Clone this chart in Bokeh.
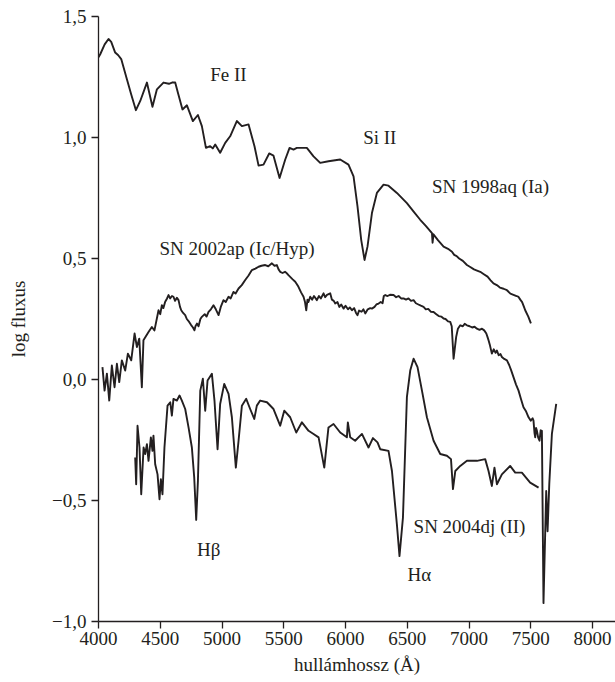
from bokeh.plotting import figure
from bokeh.models import ColumnDataSource, FixedTicker, Range1d
from bokeh.core.properties import value
from bokeh.embed import file_html
from bokeh.resources import INLINE

# SN 1998aq (Ia)
ia_wl = [4000, 4014, 4050, 4081, 4103, 4135, 4160, 4184, 4230, 4265, 4303, 4338, 4392, 4437, 4473, 4526,
         4570, 4600, 4621, 4643, 4680, 4716, 4764, 4805, 4837, 4870, 4904, 4925, 4945, 4985, 5026, 5066, 5120,
         5161, 5215, 5263, 5296, 5336, 5382, 5417, 5466, 5512, 5547, 5579, 5606, 5687, 5741,
         5795, 5862, 5957, 6024, 6065, 6097, 6127, 6154, 6178, 6214, 6254, 6308, 6348, 6416,
         6497, 6550, 6605, 6650, 6700, 6705, 6712, 6750, 6794, 6830, 6862, 6880, 6900, 6920, 6950, 6983,
         7010, 7040, 7065, 7091, 7120, 7150, 7175, 7198, 7225, 7250, 7280, 7307, 7335, 7360, 7385,
         7401, 7415, 7430, 7445, 7455, 7480, 7501]
ia_flux = [1.331, 1.344, 1.385, 1.407, 1.395, 1.351, 1.340, 1.324, 1.241, 1.178, 1.113, 1.151, 1.227, 1.127, 1.199, 1.227,
           1.222, 1.228, 1.227, 1.185, 1.116, 1.133, 1.068, 1.093, 1.047, 0.957, 0.964, 0.955, 0.971, 0.937, 0.978, 1.005, 1.068,
           1.047, 1.054, 0.964, 0.884, 0.888, 0.934, 0.925, 0.833, 0.909, 0.957, 0.950, 0.957, 0.957, 0.922,
           0.895, 0.902, 0.909, 0.888, 0.839, 0.715, 0.577, 0.494, 0.549, 0.688, 0.771, 0.805, 0.801, 0.771,
           0.729, 0.695, 0.660, 0.635, 0.605, 0.565, 0.600, 0.575, 0.549, 0.540, 0.528, 0.515, 0.510, 0.500, 0.490, 0.473,
           0.465, 0.455, 0.450, 0.445, 0.435, 0.425, 0.410, 0.397, 0.390, 0.380, 0.375, 0.369, 0.355, 0.350, 0.345,
           0.341, 0.330, 0.320, 0.300, 0.286, 0.260, 0.232]

# SN 2002ap (Ic/Hyp)
ic_wl = [4032, 4049, 4068, 4087, 4108, 4130, 4149, 4168, 4189, 4216, 4238, 4265, 4292, 4311, 4330,
         4351, 4364, 4405, 4432, 4453, 4486, 4500, 4513, 4525, 4540, 4555, 4567, 4580, 4595, 4607, 4620,
         4635, 4648, 4660, 4670, 4685, 4702, 4715, 4734, 4750, 4765, 4777, 4785, 4797, 4810, 4825, 4837,
         4860, 4875, 4891, 4910, 4931, 4950, 4972, 4990, 5012, 5030, 5053, 5070, 5093, 5110, 5134, 5160,
         5188, 5215, 5242, 5270, 5296, 5320, 5350, 5375, 5404, 5425, 5444, 5458,
         5471, 5490, 5510, 5525, 5540, 5552, 5570, 5593, 5605, 5619, 5640, 5660, 5672, 5682, 5692, 5700,
         5714, 5730, 5745, 5768, 5785, 5800, 5822, 5835, 5850, 5876, 5890, 5905, 5917, 5935, 5950, 5965,
         5984, 6000, 6020, 6035, 6052, 6070, 6085, 6097, 6110, 6130, 6145, 6160, 6180, 6200, 6214, 6235,
         6250, 6268, 6285, 6300, 6310, 6322, 6340, 6360, 6389, 6410, 6430, 6450, 6470, 6490, 6510, 6530,
         6551, 6570, 6590, 6610, 6632, 6650, 6670, 6690, 6713, 6735, 6755, 6775, 6794, 6810, 6830, 6848,
         6860, 6875, 6896, 6910, 6929, 6950, 6965, 6983, 7005, 7025, 7045, 7064, 7085, 7105, 7123, 7140,
         7150, 7158, 7170, 7185, 7200, 7215, 7226, 7240, 7255, 7266, 7285, 7307, 7325, 7340, 7360, 7380,
         7401, 7420, 7441, 7460, 7482, 7500, 7515, 7522, 7530, 7536, 7543, 7550, 7560, 7571, 7580, 7590,
         7603, 7625, 7636, 7650, 7671, 7706]
ic_flux = [0.051, -0.046, 0.024, -0.087, 0.058, -0.032, 0.065, -0.011, 0.079, 0.037, 0.107, 0.079, 0.190, 0.134, 0.169,
           -0.032, 0.162, 0.196, 0.217, 0.203, 0.286, 0.270, 0.307, 0.295, 0.321, 0.335, 0.349, 0.335, 0.345, 0.342, 0.325,
           0.338, 0.328, 0.300, 0.286, 0.275, 0.266, 0.250, 0.238, 0.225, 0.215, 0.203, 0.220, 0.231, 0.220, 0.250, 0.259,
           0.270, 0.260, 0.279, 0.290, 0.307, 0.290, 0.266, 0.300, 0.328, 0.320, 0.342, 0.335, 0.362, 0.355, 0.376, 0.390,
           0.411, 0.430, 0.452, 0.458, 0.466, 0.470, 0.473, 0.468, 0.480, 0.470, 0.473, 0.455,
           0.445, 0.440, 0.445, 0.439, 0.430, 0.424, 0.415, 0.404, 0.395, 0.383, 0.360, 0.342, 0.320, 0.286, 0.330, 0.320,
           0.342, 0.330, 0.345, 0.328, 0.345, 0.335, 0.356, 0.340, 0.350, 0.356, 0.330, 0.325, 0.314, 0.320, 0.300, 0.310,
           0.293, 0.305, 0.290, 0.298, 0.286, 0.295, 0.275, 0.266, 0.285, 0.280, 0.290, 0.273, 0.290, 0.295, 0.293, 0.300,
           0.310, 0.314, 0.320, 0.315, 0.345, 0.349, 0.345, 0.350, 0.349, 0.340, 0.345, 0.335, 0.335, 0.330, 0.335, 0.325,
           0.328, 0.315, 0.310, 0.305, 0.300, 0.290, 0.292, 0.280, 0.279, 0.270, 0.262, 0.260, 0.252, 0.250, 0.240, 0.238,
           0.220, 0.086, 0.176, 0.210, 0.224, 0.220, 0.230, 0.224, 0.220, 0.215, 0.218, 0.210, 0.205, 0.210, 0.203, 0.190,
           0.175, 0.162, 0.140, 0.107, 0.125, 0.110, 0.120, 0.100, 0.105, 0.093, 0.085, 0.079, 0.060, 0.040, 0.010, -0.020,
           -0.046, -0.080, -0.115, -0.130, -0.156, -0.170, -0.160, -0.170, -0.220, -0.239, -0.200, -0.212, -0.240, -0.253, -0.210, -0.212,
           -0.924, -0.461, -0.627, -0.430, -0.225, -0.101]

# SN 2004dj (II)
ii_wl = [4297, 4305, 4316, 4332, 4346, 4365, 4378, 4392, 4405, 4424, 4437, 4445, 4459, 4478, 4494,
         4505, 4518, 4534, 4559, 4581, 4594, 4607, 4635, 4656, 4675, 4702, 4729, 4756, 4775, 4791,
         4805, 4824, 4845, 4864, 4883, 4918, 4939, 4964, 4985, 5018, 5053, 5080, 5112, 5134, 5161,
         5196, 5228, 5261, 5282, 5309, 5364, 5417, 5471, 5504, 5552, 5601, 5647, 5701, 5741, 5782,
         5828, 5862, 5903, 5957, 6011, 6019, 6038, 6078, 6133, 6186, 6222, 6259, 6281, 6348, 6376,
         6416, 6437, 6465, 6497, 6524, 6551, 6583, 6619, 6659, 6713, 6767, 6821, 6854, 6870, 6889,
         6929, 6983, 7064, 7131, 7158, 7185, 7206, 7226, 7266, 7333, 7374, 7428, 7495, 7563]
ii_flux = [-0.322, -0.433, -0.191, -0.281, -0.474, -0.281, -0.308, -0.267, -0.336, -0.239, -0.295, -0.232, -0.350, -0.392, -0.495,
           -0.412, -0.474, -0.281, -0.108, -0.094, -0.149, -0.080, -0.087, -0.066, -0.087, -0.122, -0.198, -0.281, -0.405, -0.580,
           -0.419, -0.046, 0.003, -0.129, -0.004, 0.024, -0.087, -0.288, -0.101, -0.018, -0.059, -0.156, -0.364, -0.253, -0.108,
           -0.080, -0.122, -0.163, -0.108, -0.087, -0.094, -0.122, -0.191, -0.129, -0.156, -0.219, -0.177, -0.212, -0.225, -0.239,
           -0.364, -0.198, -0.184, -0.219, -0.239, -0.177, -0.239, -0.253, -0.225, -0.281, -0.242, -0.260, -0.288, -0.295, -0.378,
           -0.599, -0.730, -0.571, -0.073, 0.037, 0.086, 0.051, -0.046, -0.156, -0.253, -0.308, -0.315, -0.329, -0.453, -0.378,
           -0.357, -0.336, -0.336, -0.329, -0.378, -0.440, -0.364, -0.433, -0.392, -0.357, -0.385, -0.385, -0.426, -0.447]

# annotations
label_text = ["Fe II", "Si II", "SN 1998aq (Ia)", "SN 2002ap (Ic/Hyp)", "H\u03b2", "H\u03b1", "SN 2004dj (II)"]
label_x = [4904, 6143, 6700, 4494, 4797, 6502, 6551]
label_y = [1.261, 1.000, 0.798, 0.543, -0.703, -0.806, -0.606]

x_ticks = [4000, 4500, 5000, 5500, 6000, 6500, 7000, 7500, 8000]
x_tick_labels = ["4000", "4500", "5000", "5500", "6000", "6500", "7000", "7500", "8000"]
y_ticks = [-1.0, -0.5, 0.0, 0.5, 1.0, 1.5]
y_tick_labels = ["\u22121,0", "\u22120,5", "0,0", "0,5", "1,0", "1,5"]

FONT = "Liberation Serif"
INK = "#231f20"

p = figure(width=615, height=682, output_backend="svg", toolbar_location=None,
           x_range=Range1d(4000, 8186), y_range=Range1d(-1.0, 1.5),
           min_border_left=98, min_border_right=0, min_border_top=16, min_border_bottom=61)
p.outline_line_color = None
p.grid.visible = False
p.background_fill_color = "white"
p.border_fill_color = "white"

for wl, fl in [(ia_wl, ia_flux), (ic_wl, ic_flux), (ii_wl, ii_flux)]:
    p.line(wl, fl, line_color=INK, line_width=1.9, line_join="round")

src = ColumnDataSource(dict(x=label_x, y=label_y, t=label_text))
p.text(x="x", y="y", text="t", source=src, text_font=value(FONT), text_font_size="19px",
       text_color=INK, text_align="left", text_baseline="middle")

for ax in (p.xaxis[0], p.yaxis[0]):
    ax.axis_line_color = INK
    ax.axis_line_width = 1.3
    ax.major_tick_line_color = INK
    ax.major_tick_line_width = 1.3
    ax.major_tick_in = 0
    ax.major_tick_out = 7
    ax.minor_tick_line_color = None
    ax.major_label_text_font = FONT
    ax.major_label_text_font_size = "19px"
    ax.major_label_text_color = INK
    ax.axis_label_text_font = FONT
    ax.axis_label_text_font_size = "19px"
    ax.axis_label_text_font_style = "normal"
    ax.axis_label_text_color = INK

p.xaxis.ticker = FixedTicker(ticks=x_ticks)
p.xaxis.major_label_overrides = {t: l for t, l in zip(x_ticks, x_tick_labels)}
p.xaxis.axis_label = "hullámhossz (Å)"
p.xaxis.major_label_standoff = 3
p.xaxis.axis_label_standoff = 6

p.yaxis.ticker = FixedTicker(ticks=y_ticks)
p.yaxis.major_label_overrides = {t: l for t, l in zip(y_ticks, y_tick_labels)}
p.yaxis.axis_label = "log fluxus"
p.yaxis.major_label_standoff = 5
p.yaxis.axis_label_standoff = 20

open("out.html", "w").write(file_html(p, INLINE))
